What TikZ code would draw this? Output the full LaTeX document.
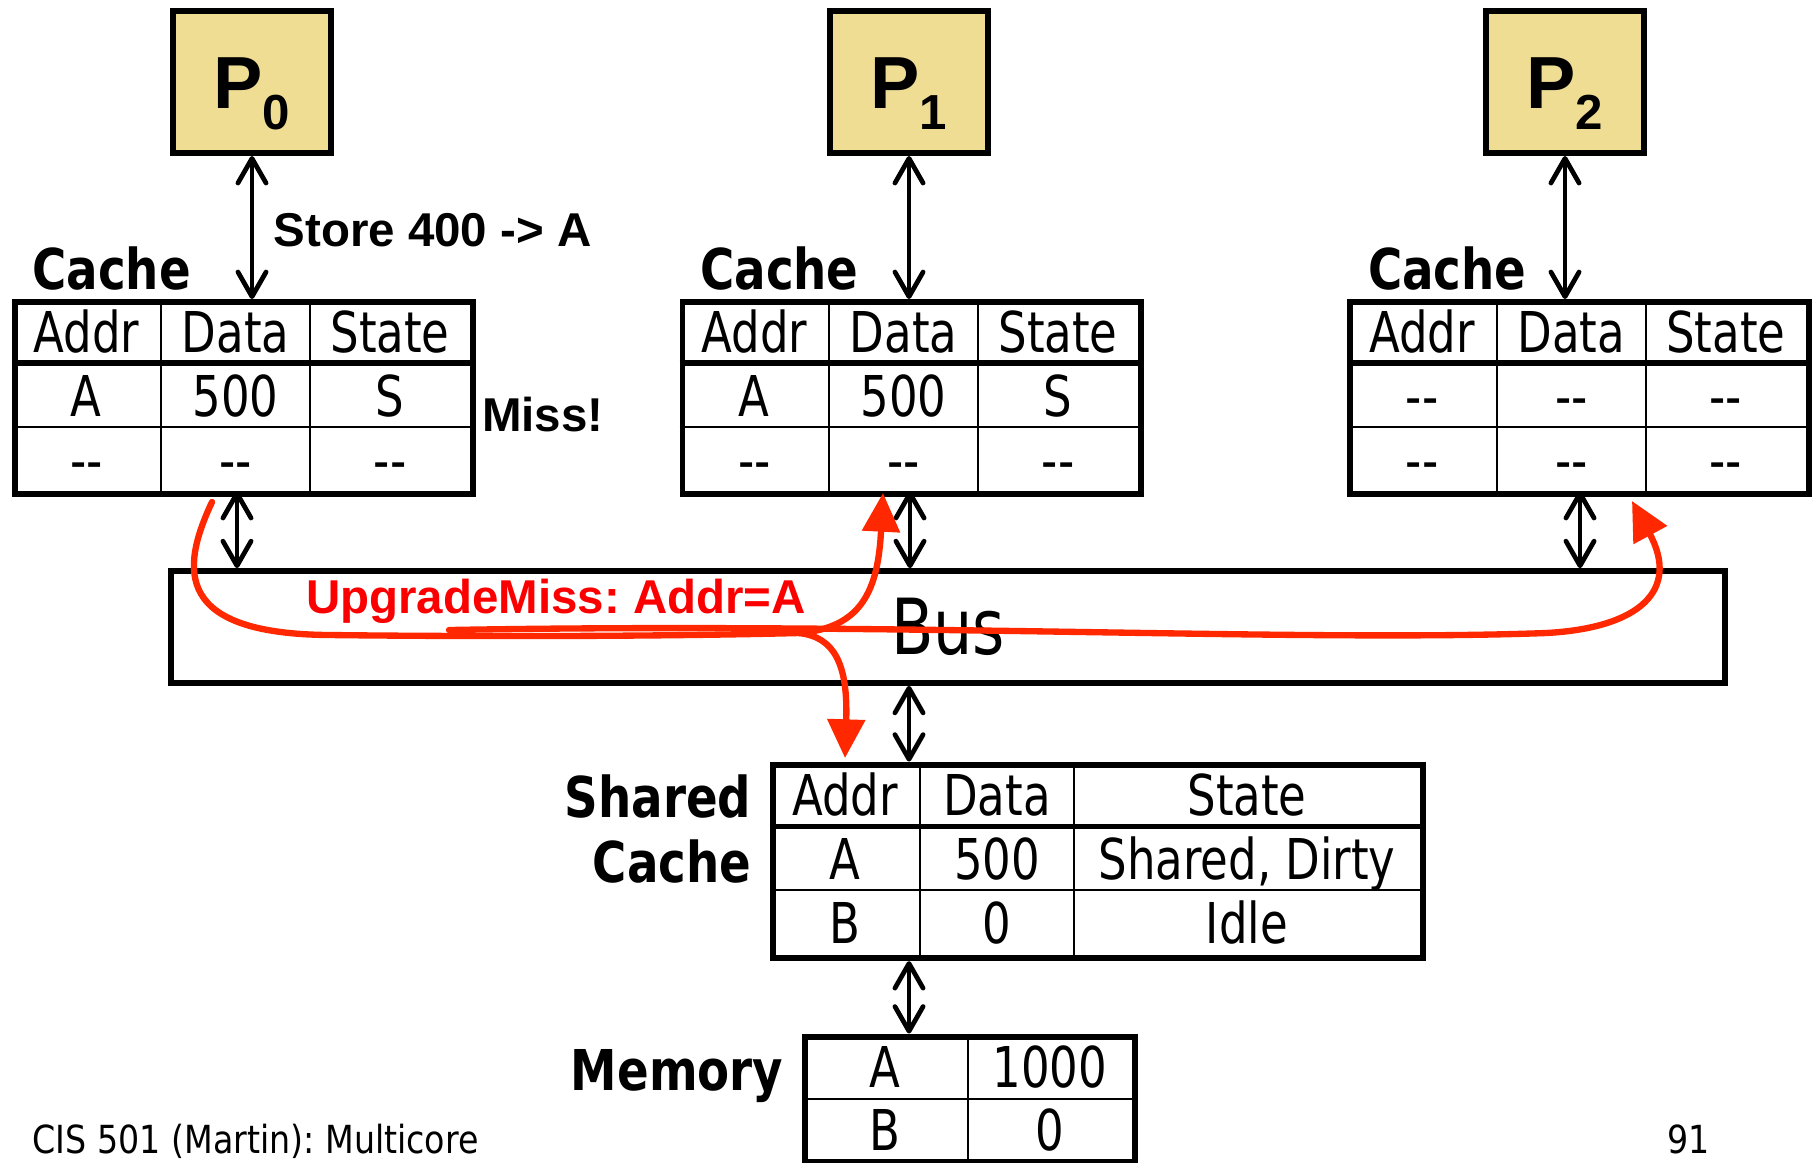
\documentclass[tikz,border=0pt]{standalone}
\usepackage{fontspec}
\setmainfont{DejaVu Sans}[FakeStretch=0.8, BoldFeatures={FakeStretch=0.83}]
\newfontfamily\arialfont{Liberation Sans}
\newfontfamily\footfont{DejaVu Sans}[FakeStretch=0.86]
\usetikzlibrary{arrows.meta,positioning}
\definecolor{procfill}{RGB}{239,221,148}
\definecolor{msgred}{RGB}{255,40,0}
\definecolor{msgtext}{RGB}{250,0,0}

\begin{document}
\frenchspacing
\begin{tikzpicture}[
  x=0.01cm, y=-0.01cm,
  procbox/.style={draw, line width=1.7pt, fill=procfill, minimum width=1.58cm, minimum height=1.42cm, inner sep=0pt, font=\arialfont\bfseries\fontsize{21}{21}\selectfont, text height=0.52cm, text depth=0pt},
  tablebox/.style={draw, line width=1.7pt, inner sep=0pt, anchor=north west},
  thickrule/.style={line width=1.6pt},
  thinrule/.style={line width=0.7pt},
  cell/.style={inner sep=0pt, font=\fontsize{16}{16}\selectfont, text height=0.42cm, text depth=0pt},
  tablelabel/.style={inner sep=0pt, font=\bfseries\fontsize{16}{16}\selectfont},
  arialnote/.style={inner sep=0pt, font=\arialfont\bfseries\fontsize{13.5}{13.5}\selectfont},
  biarrow/.style={line width=1.35pt, {Straight Barb[length=7pt,width=8pt,round]}-{Straight Barb[length=7pt,width=8pt,round]}},
  msgline/.style={line width=1.8pt, draw=msgred, line cap=round},
  msgarrow/.style={msgline, -{Triangle[length=11pt,width=10.5pt]}}
]
\useasboundingbox (0,0) rectangle (1815,1162);

\node (bus) [draw, line width=1.6pt, minimum width=15.53cm, minimum height=1.12cm, font=\fontsize{22}{22}\selectfont] at (948,627) {Bus};

\foreach \n/\px/\lx/\bx/\va/\vb/\vc in {0/252/11.6/237/A/500/S, 1/909/679.5/910/A/500/S, 2/1565/1347.3/1580/-{}-/-{}-/-{}-}{
  \node (P\n) [procbox] at (\px,82) {P\raisebox{-6pt}{\fontsize{14}{14}\selectfont\n}};
  \draw[thickrule] (\lx,363) -- ++(458.5,0);
  \draw[thinrule] (\lx,427) -- ++(458.5,0);
  \draw[thinrule] (\lx+149.5,299) -- ++(0,192);
  \draw[thinrule] (\lx+298.5,299) -- ++(0,192);
  \node (C\n) [tablebox, minimum width=4.585cm, minimum height=1.92cm] at (\lx,299) {};
  \node (C\n-lbl) [tablelabel, anchor=base west] at (\lx+20,289) {Cache};
  \node (C\n-h1) [cell] at (\lx+74.75,331) {Addr};
  \node (C\n-h2) [cell] at (\lx+224,331) {Data};
  \node (C\n-h3) [cell] at (\lx+378.5,331) {State};
  \node (C\n-a1) [cell] at (\lx+74.75,395) {\va};
  \node (C\n-a2) [cell] at (\lx+224,395) {\vb};
  \node (C\n-a3) [cell] at (\lx+378.5,395) {\vc};
  \node (C\n-b1) [cell] at (\lx+74.75,459) {-{}-};
  \node (C\n-b2) [cell] at (\lx+224,459) {-{}-};
  \node (C\n-b3) [cell] at (\lx+378.5,459) {-{}-};
  \draw[biarrow] (P\n.south) -- (P\n.south |- C\n.north);
  \coordinate (C\n-bus) at (\bx,491);
  \draw[biarrow] (C\n-bus) -- (C\n-bus |- bus.north);
}

\node (store) [arialnote, anchor=base west] at (273,246.5) {Store 400 -> A};
\node (miss) [arialnote, anchor=base west] at (481.5,431.7) {Miss!};

\draw[thickrule] (769.7,826.5) -- (1420,826.5);
\draw[thinrule] (769.7,890) -- (1420,890);
\draw[thinrule] (920,761.6) -- (920,955);
\draw[thinrule] (1074,761.6) -- (1074,955);
\node (SC) [tablebox, minimum width=6.503cm, minimum height=1.934cm] at (769.7,761.6) {};
\node (SC-lbl1) [tablelabel, anchor=base east] at (752,817) {Shared};
\node (SC-lbl2) [tablelabel, anchor=base east] at (752,882) {Cache};
\node (SC-h1) [cell] at (845,794) {Addr};
\node (SC-h2) [cell] at (997,794) {Data};
\node (SC-h3) [cell] at (1247,794) {State};
\node (SC-a1) [cell] at (845,858) {A};
\node (SC-a2) [cell] at (997,858) {500};
\node (SC-a3) [cell] at (1247,858) {Shared, Dirty};
\node (SC-b1) [cell] at (845,922.5) {B};
\node (SC-b2) [cell] at (997,922.5) {0};
\node (SC-b3) [cell] at (1247,922.5) {Idle};

\draw[thinrule] (802,1099) -- (1132,1099);
\draw[thinrule] (968,1033.5) -- (968,1159);
\node (MEM) [tablebox, minimum width=3.3cm, minimum height=1.255cm] at (802,1033.5) {};
\node (MEM-lbl) [tablelabel, anchor=base east] at (784,1090) {Memory};
\node (MEM-a1) [cell] at (885,1066) {A};
\node (MEM-a2) [cell] at (1050,1066) {1000};
\node (MEM-b1) [cell] at (885,1129) {B};
\node (MEM-b2) [cell] at (1050,1129) {0};

\draw[biarrow] (bus.south -| P1.south) -- (SC.north -| P1.south);
\draw[biarrow] (SC.south -| P1.south) -- (MEM.north -| P1.south);

\coordinate (s) at (212,502);
\coordinate (j) at (799,633);
\coordinate (r) at (449,630);
\coordinate (t1) at (883,493);
\coordinate (t2) at (845,758);
\coordinate (t3) at (1632,501);
\draw[msgline] (s) .. controls (180,570) and (175,634) .. (330,635) .. controls (500,637) and (680,636) .. (j);
\draw[msgarrow] (j) .. controls (862,628) and (878,590) .. (t1);
\draw[msgarrow] (j) .. controls (835,637) and (848,665) .. (t2);
\draw[msgarrow] (r) .. controls (900,622) and (1300,642) .. (1546,633) .. controls (1640,628) and (1680,590) .. (t3);
\node (msg) [arialnote, text=msgtext, anchor=base] at (556,613.5) {UpgradeMiss: Addr=A};

\node (footer) [anchor=base west, inner sep=0pt, font=\footfont\fontsize{11}{11}\selectfont] at (32,1153) {CIS 501 (Martin): Multicore};
\node (pagenum) [anchor=base west, inner sep=0pt, font=\footfont\fontsize{11}{11}\selectfont] at (1667,1153) {91};
\end{tikzpicture}
\end{document}
